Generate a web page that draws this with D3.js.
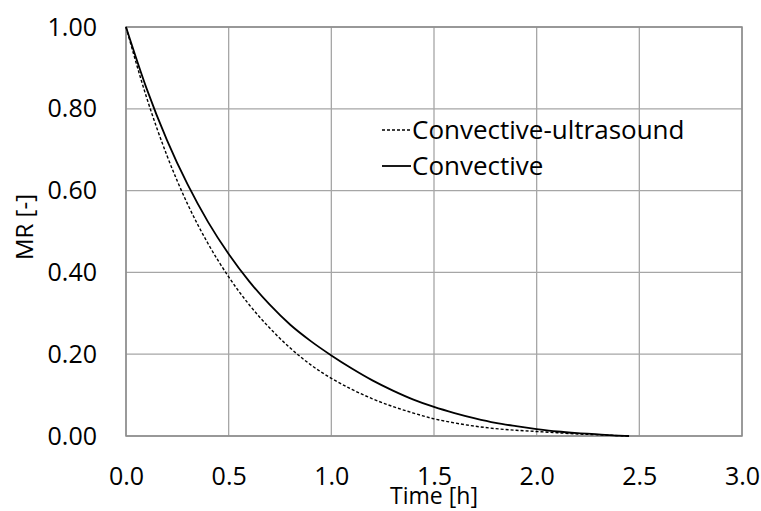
<!DOCTYPE html>
<html>
<head>
  <meta charset="utf-8">
  <title>MR vs time</title>
  <style>
  body { margin: 0; background: #fff; }
  text { font-family: "Open Sans", sans-serif; fill: #000; }
  .grid line { stroke: #a6a6a6; stroke-width: 1.3px; }
  .tick text { font-size: 25px; }
  </style>
</head>
<body>
  <svg width="761" height="511"></svg>
  <script src="https://d3js.org/d3.v7.min.js"></script>
  <script>
  // moisture ratio, every 0.1 h
  var time = [0, 0.1, 0.2, 0.3, 0.4, 0.5, 0.6, 0.7, 0.8, 0.9, 1.0, 1.1, 1.2, 1.3, 1.4,
              1.5, 1.6, 1.7, 1.8, 1.9, 2.0, 2.1, 2.2, 2.3, 2.4, 2.45];
  var convective = [1.0, 0.85, 0.723, 0.615, 0.523, 0.445, 0.378, 0.321, 0.272, 0.232, 0.197,
                    0.165, 0.136, 0.111, 0.089, 0.071, 0.056, 0.043, 0.032, 0.024, 0.017,
                    0.011, 0.007, 0.004, 0.001, 0];
  var ultrasound = [1.0, 0.828, 0.685, 0.567, 0.47, 0.389, 0.321, 0.264, 0.215, 0.174, 0.141,
                    0.114, 0.091, 0.072, 0.056, 0.042, 0.032, 0.024, 0.018, 0.014, 0.011,
                    0.008, 0.005, 0.003, 0.001, 0];
  var xTicks = [0, 0.5, 1.0, 1.5, 2.0, 2.5, 3.0];
  var yTicks = [0, 0.2, 0.4, 0.6, 0.8, 1.0];

  var svg = d3.select("svg"),
      margin = {top: 27, right: 20, bottom: 75, left: 126},
      width = 742 - margin.left,
      height = 436 - margin.top,
      g = svg.append("g").attr("transform", "translate(" + margin.left + "," + margin.top + ")");

  var x = d3.scaleLinear().domain([0, 3]).range([0, width]);
  var y = d3.scaleLinear().domain([0, 1]).range([height, 0]);

  // grid
  g.append("g").attr("class", "grid")
    .selectAll("line").data(xTicks).enter().append("line")
    .attr("x1", function(d) { return x(d); }).attr("x2", function(d) { return x(d); })
    .attr("y1", 0).attr("y2", height);
  g.append("g").attr("class", "grid")
    .selectAll("line").data(yTicks).enter().append("line")
    .attr("y1", function(d) { return y(d); }).attr("y2", function(d) { return y(d); })
    .attr("x1", 0).attr("x2", width);

  // frame
  g.append("rect").attr("width", width).attr("height", height)
    .attr("fill", "none").attr("stroke", "#8c8c8c").attr("stroke-width", 1.5);

  // axes
  g.append("g")
    .attr("transform", "translate(0," + height + ")")
    .call(d3.axisBottom(x).tickValues(xTicks).tickFormat(d3.format(".1f")).tickSize(0).tickPadding(31))
    .call(function(a) { a.select(".domain").remove(); });

  g.append("g")
    .call(d3.axisLeft(y).tickValues(yTicks).tickFormat(d3.format(".2f")).tickSize(0).tickPadding(29))
    .call(function(a) { a.select(".domain").remove(); });

  svg.append("text")
    .attr("x", 434).attr("y", 504)
    .attr("text-anchor", "middle").style("font-size", "23px")
    .text("Time [h]");

  svg.append("text")
    .attr("transform", "translate(33,227) rotate(-90)")
    .attr("text-anchor", "middle").style("font-size", "24px")
    .text("MR [-]");

  var line = d3.line()
    .x(function(d, i) { return x(time[i]); })
    .y(function(d) { return y(d); })
    .curve(d3.curveMonotoneX);

  g.append("path").datum(ultrasound)
    .attr("fill", "none").attr("stroke", "#000").attr("stroke-width", 1.4)
    .attr("stroke-dasharray", "3,2").attr("d", line);

  g.append("path").datum(convective)
    .attr("fill", "none").attr("stroke", "#000").attr("stroke-width", 1.8)
    .attr("d", line);

  // legend
  var legend = svg.append("g").attr("transform", "translate(382,130)");
  var items = [
    {name: "Convective-ultrasound", dash: "3,2", w: 1.4},
    {name: "Convective", dash: null, w: 1.8}
  ];
  items.forEach(function(d, i) {
    var row = legend.append("g").attr("transform", "translate(0," + (i * 36) + ")");
    row.append("line").attr("x1", 0).attr("x2", 29).attr("y1", 0).attr("y2", 0)
      .attr("stroke", "#000").attr("stroke-width", d.w).attr("stroke-dasharray", d.dash);
    row.append("text").attr("x", 30).attr("y", 9).style("font-size", "26px").text(d.name);
  });
  </script>
</body>
</html>
